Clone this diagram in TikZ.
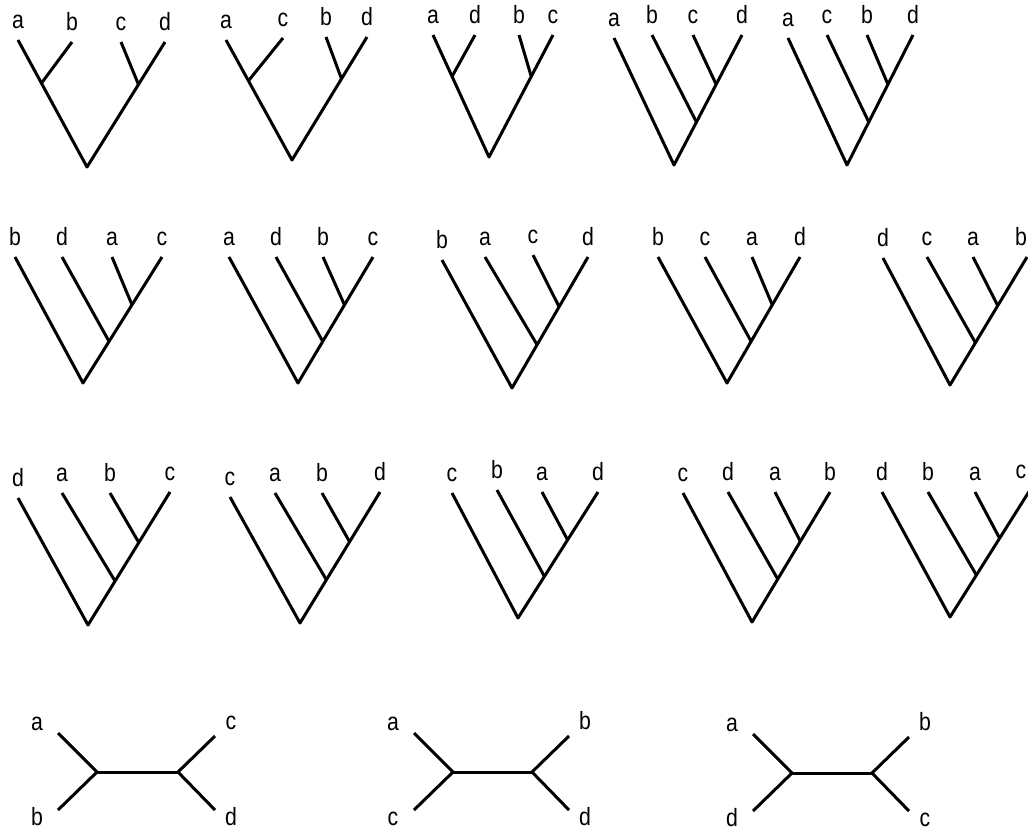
\documentclass[tikz,border=0pt]{standalone}
\usepackage{fontspec}
\usepackage{tikz}
\usetikzlibrary{calc}
\usetikzlibrary{positioning}
\newfontfamily\taxonfont[FakeStretch=0.85]{Liberation Sans}

\tikzset{branch/.style={line width=3pt, line join=round},
	taxon/.style={font=\taxonfont\fontsize{25}{25}\selectfont, inner sep=0pt, anchor=base}}

% rooted tree: id, root, leaves x/y/label
\def\cattree#1#2#3{%
	\coordinate (#1r) at #2;
	\foreach \x/\y/\l [count=\i] in {#3} {
		\pgfmathsetmacro\dx{min(0,1021-\x)}
		\coordinate (#1l\i) at (\x,\y);
		\node[taxon, above=12pt of #1l\i, anchor=base, xshift=\dx pt] (#1t\i) {\l};
	}
	\coordinate (#1n1) at ($ (#1r)!0.33!(#1l4) $);
	\coordinate (#1n2) at ($ (#1r)!0.62!(#1l4) $);
	\draw[branch] (#1l1) -- (#1r) -- (#1l4);
	\draw[branch] (#1l2) -- (#1n1);
	\draw[branch] (#1l3) -- (#1n2);
}
\def\baltree#1#2#3{%
	\coordinate (#1r) at #2;
	\foreach \x/\y/\l [count=\i] in {#3} {
		\coordinate (#1l\i) at (\x,\y);
		\node[taxon, above=12pt of #1l\i, anchor=base] (#1t\i) {\l};
	}
	\coordinate (#1n1) at ($ (#1r)!0.66!(#1l1) $);
	\coordinate (#1n2) at ($ (#1r)!0.66!(#1l4) $);
	\draw[branch] (#1l1) -- (#1r) -- (#1l4);
	\draw[branch] (#1l2) -- (#1n1);
	\draw[branch] (#1l3) -- (#1n2);
}
% unrooted tree: id, left x, right x, y, labels
\def\utree#1#2#3#4#5#6#7#8{%
	\coordinate (#1L) at (#2,#4);
	\coordinate (#1R) at (#3,#4);
	\coordinate (#1l1) at ($ (#1L) + (-39,-39) $);
	\coordinate (#1l2) at ($ (#1L) + (-39,38) $);
	\coordinate (#1l3) at ($ (#1R) + (37,-36) $);
	\coordinate (#1l4) at ($ (#1R) + (37,38) $);
	\node[taxon] (#1t1) at ($ (#1l1) + (-21,-3) $) {#5};
	\node[taxon] (#1t2) at ($ (#1l2) + (-21,15) $) {#6};
	\node[taxon] (#1t3) at ($ (#1l3) + (16,-7) $) {#7};
	\node[taxon] (#1t4) at ($ (#1l4) + (16,15) $) {#8};
	\draw[branch] (#1l1) -- (#1L) -- (#1l2);
	\draw[branch] (#1L) -- (#1R);
	\draw[branch] (#1l3) -- (#1R) -- (#1l4);
}

\begin{document}
\begin{tikzpicture}[x=1pt,y=-1pt]
	\useasboundingbox (0,0) rectangle (1028,831);

	% first row
	\baltree{ta}{(87,167)}{18/40/a, 72/42/b, 121/42/c, 165/42/d}
	\baltree{tb}{(292,160)}{226/40/a, 283/38/c, 326/37/b, 367/37/d}
	\baltree{tc}{(489,157)}{433/35/a, 475/35/d, 519/35/b, 553/35/c}
	\cattree{td}{(674,165)}{614/38/a, 652/35/b, 693/35/c, 742/35/d}
	\cattree{te}{(847,165)}{788/38/a, 827/35/c, 867/35/b, 913/35/d}

	% second row
	\cattree{tf}{(83,383)}{15/257/b, 62/257/d, 112/257/a, 162/257/c}
	\cattree{tg}{(298,383)}{229/257/a, 276/257/d, 323/257/b, 373/257/c}
	\cattree{th}{(512,388)}{442/260/b, 485/257/a, 533/255/c, 588/257/d}
	\cattree{ti}{(727,383)}{658/257/b, 705/257/c, 752/257/a, 800/257/d}
	\cattree{tj}{(950,385)}{883/258/d, 927/257/c, 973/257/a, 1027/257/b}

	% third row
	\cattree{tk}{(88,625)}{18/498/d, 62/493/a, 110/493/b, 170/492/c}
	\cattree{tl}{(300,623)}{230/497/c, 275/493/a, 322/493/b, 380/492/d}
	\cattree{tm}{(518,618)}{452/493/c, 497/490/b, 542/492/a, 598/492/d}
	\cattree{tn}{(752,622)}{683/493/c, 728/492/d, 775/492/a, 830/492/b}
	\cattree{to}{(950,617)}{882/492/d, 928/492/b, 975/492/a, 1030/490/c}

	% unrooted
	\utree{ua}{97}{178}{772}{a}{b}{c}{d}
	\utree{ub}{453}{532}{772}{a}{c}{b}{d}
	\utree{uc}{792}{872}{773}{a}{d}{b}{c}
\end{tikzpicture}
\end{document}
